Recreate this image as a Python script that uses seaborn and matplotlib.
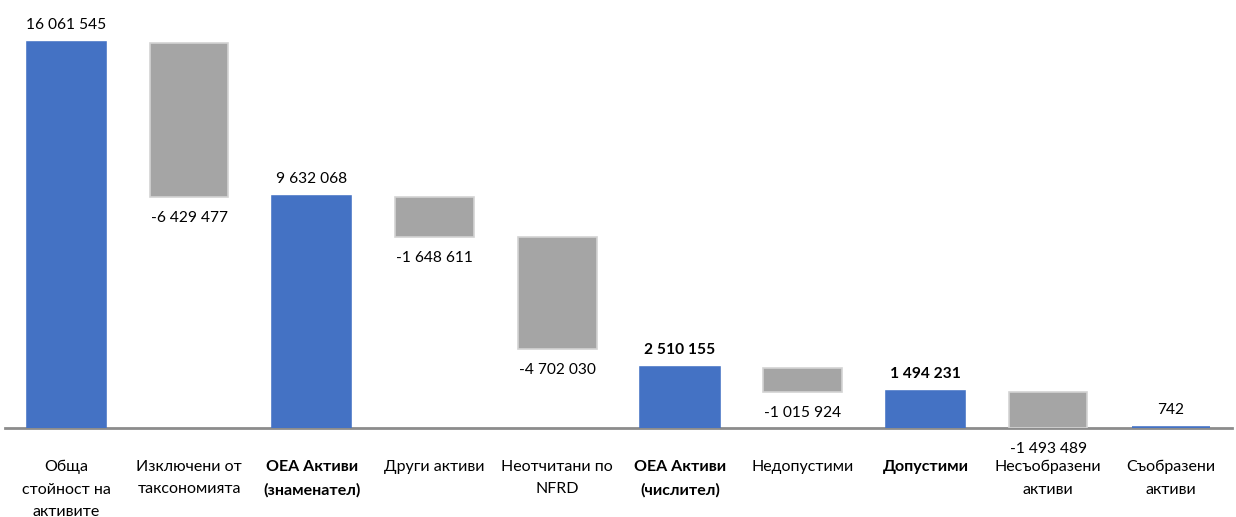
import matplotlib
matplotlib.use("Agg")
import matplotlib.pyplot as plt
import seaborn as sns
import pandas as pd

# --- data ---
categories = ["Обща\nстойност на\nактивите", "Изключени от\nтаксономията",
              "ОЕА Активи\n(знаменател)", "Други активи", "Неотчитани по\nNFRD",
              "ОЕА Активи\n(числител)", "Недопустими", "Допустими",
              "Несъобразени\nактиви", "Съобразени\nактиви"]
values = [16061545, -6429477, 9632068, -1648611, -4702030,
          2510155, -1015924, 1494231, -1493489, 742]
is_total = [True, False, True, False, False, True, False, True, False, True]
bold_cats = [False, False, True, False, False, True, False, True, False, False]
bold_vals = [False, False, False, False, False, True, False, True, False, False]

BLUE = "#4472C4"
GREY = "#A5A5A5"

# running levels for the floating bars
level = 0
lows, highs = [], []
for v, t in zip(values, is_total):
    if t:
        level = v
        lows.append(0)
        highs.append(v)
    else:
        lows.append(level + v)
        highs.append(level)
        level = level + v

df = pd.DataFrame({"cat": categories, "value": values, "total": is_total,
                   "low": lows, "high": highs})


def fmt(v):
    return f"{v:,}".replace(",", " ")


sns.set_theme(style="white")
plt.rcParams["font.family"] = ["Lato", "DejaVu Sans"]

fig = plt.figure(figsize=(12.36, 5.17), dpi=100)
ax = fig.add_axes([0.004, 0.172, 0.993, 0.828])

tot = df[df["total"]]
sns.barplot(data=tot, x="cat", y="value", order=categories, color=BLUE,
            width=0.63, saturation=1, edgecolor=BLUE, linewidth=2.6,
            zorder=3, ax=ax)

chg = df[~df["total"]]
pos = [categories.index(c) for c in chg["cat"]]
ax.bar(pos, chg["high"] - chg["low"], bottom=chg["low"], width=0.64,
       color=GREY, edgecolor="#D3D3D3", linewidth=1.2, zorder=2)

# value labels
for i, row in df.iterrows():
    w = "bold" if bold_vals[i] else "normal"
    if row["value"] >= 0:
        ax.annotate(fmt(row["value"]), xy=(i, row["high"]), xytext=(0, 13),
                    textcoords="offset points", ha="center", va="center",
                    fontsize=11.2, fontweight=w, color="#000000",
                    annotation_clip=False)
    else:
        ax.annotate(fmt(row["value"]), xy=(i, row["low"]), xytext=(0, -15),
                    textcoords="offset points", ha="center", va="center",
                    fontsize=11.2, fontweight=w, color="#000000",
                    annotation_clip=False)

ax.set_xlim(-0.5, len(categories) - 0.5)
ax.set_ylim(0, 17.86e6)
ax.set_yticks([])
ax.set_xlabel("")
ax.set_ylabel("")
ax.tick_params(axis="x", length=0, pad=23, labelsize=11.5)
for lbl, b in zip(ax.get_xticklabels(), bold_cats):
    lbl.set_linespacing(1.75)
    lbl.set_color("#000000")
    if b:
        lbl.set_fontweight("bold")

sns.despine(ax=ax, left=True)
ax.spines["bottom"].set_color("#8C8C8C")
ax.spines["bottom"].set_linewidth(2)
ax.spines["bottom"].set_zorder(1)

fig.savefig("out.png", dpi=100)
plt.close(fig)
